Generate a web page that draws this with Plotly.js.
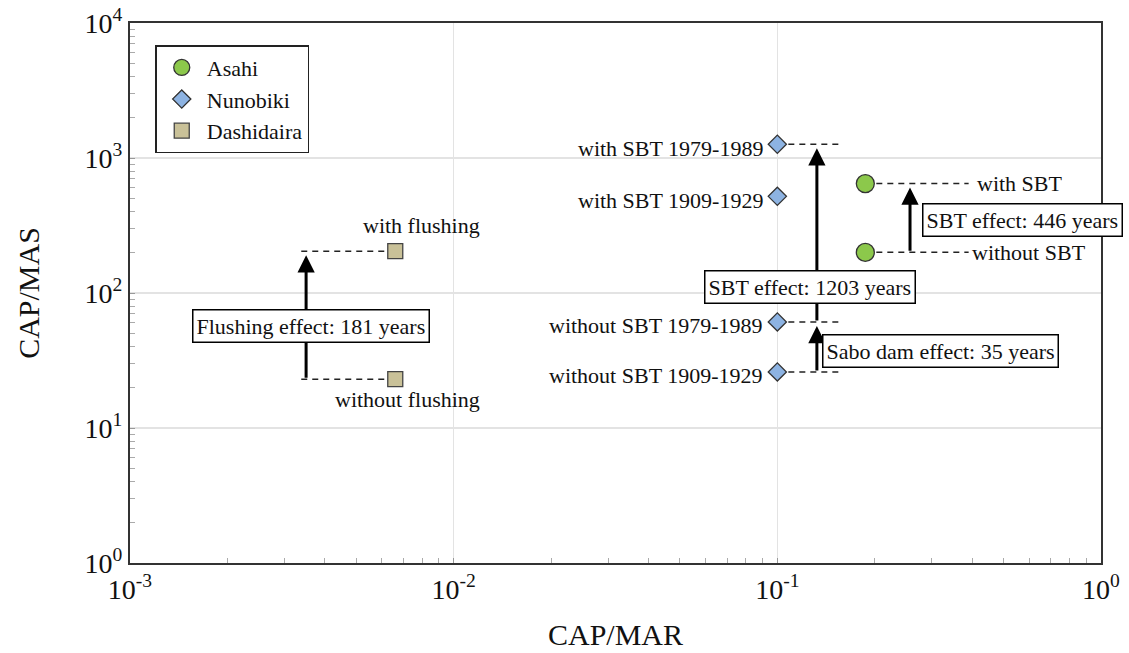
<!DOCTYPE html>
<html><head><meta charset="utf-8">
<script src="https://cdn.plot.ly/plotly-3.0.1.min.js"></script>
<style>html,body{margin:0;padding:0;background:#fff}#chart{width:1129px;height:653px}</style>
</head><body><div id="chart"></div>
<script>
// ---- data ----
const siteNames = ['Asahi', 'Nunobiki', 'Dashidaira'];
const asahiX = [0.187, 0.187];
const asahiY = [646, 200];
const asahiLabels = ['with SBT', 'without SBT'];
const nunobikiX = [0.1, 0.1, 0.1, 0.1];
const nunobikiY = [1264, 520, 61, 26];
const nunobikiLabels = ['with SBT 1979-1989', 'with SBT 1909-1929', 'without SBT 1979-1989', 'without SBT 1909-1929'];
const dashiX = [0.0066, 0.0066];
const dashiY = [204, 23];
const dashiLabels = ['with flushing', 'without flushing'];
const effectNames = ['Flushing effect', 'SBT effect', 'Sabo dam effect', 'SBT effect'];
const effectYears = [181, 1203, 35, 446];
const xTickVals = [0.001, 0.01, 0.1, 1];
const xTickText = ['10<sup>-3</sup>', '10<sup>-2</sup>', '10<sup>-1</sup>', '10<sup>0</sup>'];
const yTickVals = [1, 10, 100, 1000, 10000];
const yTickText = ['10<sup>0</sup>', '10<sup>1</sup>', '10<sup>2</sup>', '10<sup>3</sup>', '10<sup>4</sup>'];

// guide / arrow geometry (x positions on the CAP/MAR axis)
const dashiGuideEnd = 0.00335, dashiArrowX = 0.0035;
const nunoGuideEnd = 0.156, nunoArrowX = 0.1325;
const asahiGuideEnd = 0.39, asahiArrowX = 0.257;

const FONT = '"Liberation Serif"';
const L = Math.log10;

function minorVals(lo, hi) {
  const v = [];
  for (let e = lo; e < hi; e++) for (let m = 2; m <= 9; m++) v.push(m * Math.pow(10, e));
  return v;
}

const dashLine = {color: '#222', width: 1.5, dash: '6px,5px'};
function guide(x0, x1, y) {
  return {x: [x0, x1], y: [y, y], mode: 'lines', line: dashLine, showlegend: false, hoverinfo: 'skip'};
}

const traces = [
  guide(dashiX[0], dashiGuideEnd, dashiY[0]),
  guide(dashiX[1], dashiGuideEnd, dashiY[1]),
  guide(nunobikiX[0], nunoGuideEnd, nunobikiY[0]),
  guide(nunobikiX[2], nunoGuideEnd, nunobikiY[2]),
  guide(nunobikiX[3], nunoGuideEnd, nunobikiY[3]),
  guide(asahiX[0], asahiGuideEnd, asahiY[0]),
  guide(asahiX[1], asahiGuideEnd, asahiY[1]),
  {x: asahiX, y: asahiY, name: siteNames[0], mode: 'markers', type: 'scatter',
   marker: {symbol: 'circle', size: 18, color: '#8cc84b', line: {color: '#333', width: 1.3}}},
  {x: nunobikiX, y: nunobikiY, name: siteNames[1], mode: 'markers', type: 'scatter',
   marker: {symbol: 'diamond', size: 14, color: '#8db3e2', line: {color: '#333', width: 1.3}}},
  {x: dashiX, y: dashiY, name: siteNames[2], mode: 'markers', type: 'scatter',
   marker: {symbol: 'square', size: 15, color: '#c9c198', line: {color: '#444', width: 1.3}}}
];

const ann = [];
function arrow(x, yTop, yBot) {
  ann.push({x: L(x), y: L(yTop), ax: L(x), ay: L(yBot), xref: 'x', yref: 'y', axref: 'x', ayref: 'y',
    showarrow: true, arrowhead: 2, arrowsize: 1.15, arrowwidth: 3, arrowcolor: '#000', standoff: 4, text: ''});
}
function box(text, x, y, xanchor) {
  ann.push({x: L(x), y: L(y), xref: 'x', yref: 'y', text: text, showarrow: false, xanchor: xanchor,
    yanchor: 'middle', bgcolor: '#fff', bordercolor: '#000', borderwidth: 1.5, borderpad: 3,
    font: {family: FONT, size: 22, color: '#111'}});
}
function label(text, x, y, xanchor, xshift, yshift) {
  ann.push({x: L(x), y: L(y), xref: 'x', yref: 'y', text: text, showarrow: false, xanchor: xanchor,
    yanchor: 'middle', xshift: xshift, yshift: yshift, font: {family: FONT, size: 22, color: '#111'}});
}

arrow(dashiArrowX, dashiY[0], dashiY[1]);
arrow(nunoArrowX, nunobikiY[0], nunobikiY[2]);
arrow(nunoArrowX, nunobikiY[2], nunobikiY[3]);
arrow(asahiArrowX, asahiY[0], asahiY[1]);

box(effectNames[0] + ': ' + effectYears[0] + ' years', 0.00362, 57, 'center');
box(effectNames[1] + ': ' + effectYears[1] + ' years', 0.126, 111, 'center');
box(effectNames[2] + ': ' + effectYears[2] + ' years', 0.1375, 37, 'left');
box(effectNames[3] + ': ' + effectYears[3] + ' years', 0.28, 348, 'left');

label(dashiLabels[0], dashiX[0], dashiY[0], 'center', 26, 26);
label(dashiLabels[1], dashiX[1], dashiY[1], 'center', 12, -20);
nunobikiLabels.forEach((t, i) => label(t, nunobikiX[i], nunobikiY[i], 'right', -12, -4));
label(asahiLabels[0], asahiGuideEnd, asahiY[0], 'left', 6, 0);
label(asahiLabels[1], asahiGuideEnd, asahiY[1], 'left', 1, 0);

const axisCommon = {
  type: 'log', showline: true, linecolor: '#333', linewidth: 2, mirror: true,
  showgrid: true, gridcolor: '#e3e3e3', gridwidth: 1.2, zeroline: false,
  ticks: 'inside', ticklen: 5, tickcolor: '#999', tickmode: 'array',
  tickfont: {family: FONT, size: 28, color: '#111'}
};

const layout = {
  width: 1129, height: 653,
  margin: {l: 130, r: 28, t: 23, b: 90},
  paper_bgcolor: '#fff', plot_bgcolor: '#fff',
  font: {family: FONT, color: '#111'},
  xaxis: Object.assign({}, axisCommon, {
    range: [-3, 0], tickvals: xTickVals, ticktext: xTickText,
    minor: {tickmode: 'array', tickvals: minorVals(-3, 0), ticks: 'inside', ticklen: 5, tickcolor: '#aaa', showgrid: false},
    title: {text: 'CAP/MAR', font: {family: FONT, size: 30, color: '#111'}, standoff: 20}
  }),
  yaxis: Object.assign({}, axisCommon, {
    range: [0, 4], tickvals: yTickVals, ticktext: yTickText,
    minor: {tickmode: 'array', tickvals: minorVals(0, 4), ticks: 'inside', ticklen: 5, tickcolor: '#aaa', showgrid: false},
    title: {text: 'CAP/MAS', font: {family: FONT, size: 30, color: '#111'}, standoff: 36}
  }),
  legend: {
    x: 0.026, y: 0.959, xanchor: 'left', yanchor: 'top',
    bgcolor: '#fff', bordercolor: '#222', borderwidth: 1.5, itemwidth: 40,
    font: {family: FONT, size: 22, color: '#111'}, tracegroupgap: 0
  },
  annotations: ann,
  showlegend: true
};

Plotly.newPlot('chart', traces, layout, {displayModeBar: false, staticPlot: true});
</script></body></html>
